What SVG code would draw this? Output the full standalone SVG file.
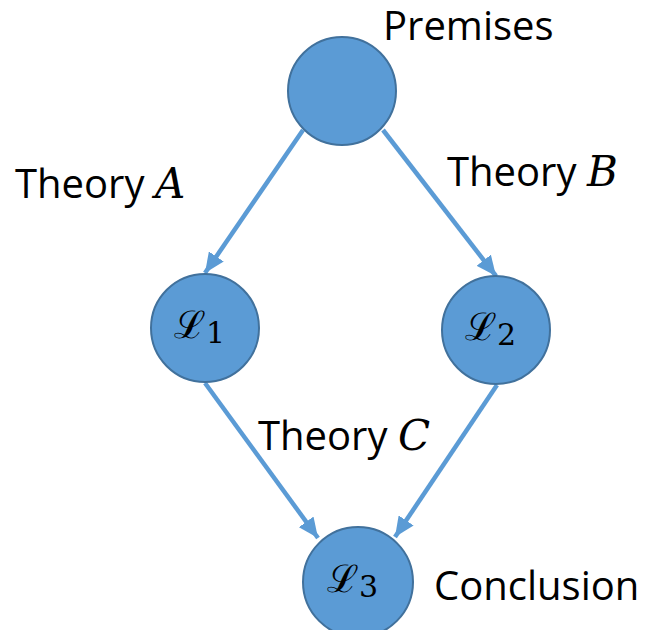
<svg xmlns="http://www.w3.org/2000/svg" width="648" height="630" viewBox="0 0 648 630">
<defs>
<style>
.node{fill:#5B9BD5;stroke:#41719C;stroke-width:2}
.edge{stroke:#5B9BD5;stroke-width:4.5;fill:none}
.lbl{font-family:"Open Sans","Liberation Sans",sans-serif;font-size:40px;fill:#000}
.m{font-family:"DejaVu Serif","Liberation Serif",serif;font-style:italic;font-size:42px}
.math{font-family:"DejaVu Serif","Liberation Serif",serif;font-size:38px;fill:#000}
</style>
<marker id="ah" markerUnits="userSpaceOnUse" viewBox="0 0 20 18" refX="20" refY="9" markerWidth="20" markerHeight="18" orient="auto">
<path d="M0,0 L20,9 L0,18 Z" fill="#5B9BD5"/>
</marker>
</defs>
<rect width="648" height="630" fill="#fff"/>
<g id="connectors">
<line class="edge" x1="303" y1="130" x2="205" y2="273" marker-end="url(#ah)"/>
<line class="edge" x1="383" y1="130" x2="496" y2="276" marker-end="url(#ah)"/>
<line class="edge" x1="205" y1="383" x2="318" y2="538" marker-end="url(#ah)"/>
<line class="edge" x1="497" y1="385" x2="395" y2="537" marker-end="url(#ah)"/>
</g>
<g id="premises">
<circle class="node" cx="342" cy="91" r="54"/>
<text class="lbl" x="383" y="40">Premises</text>
</g>
<g id="L1">
<circle class="node" cx="205" cy="328" r="54"/>
<text class="math" x="174" y="338">ℒ<tspan font-size="30" dy="5">1</tspan></text>
</g>
<g id="L2">
<circle class="node" cx="496" cy="330" r="54"/>
<text class="math" x="465" y="340">ℒ<tspan font-size="30" dy="5">2</tspan></text>
</g>
<g id="L3">
<circle class="node" cx="358" cy="582" r="55"/>
<text class="math" x="327" y="592">ℒ<tspan font-size="30" dy="5">3</tspan></text>
<text class="lbl" x="434" y="600">Conclusion</text>
</g>
<g id="labels">
<text class="lbl" x="15" y="198">Theory <tspan class="m">A</tspan></text>
<text class="lbl" x="447" y="186">Theory <tspan class="m">B</tspan></text>
<text class="lbl" x="258" y="450">Theory <tspan class="m">C</tspan></text>
</g>
</svg>
